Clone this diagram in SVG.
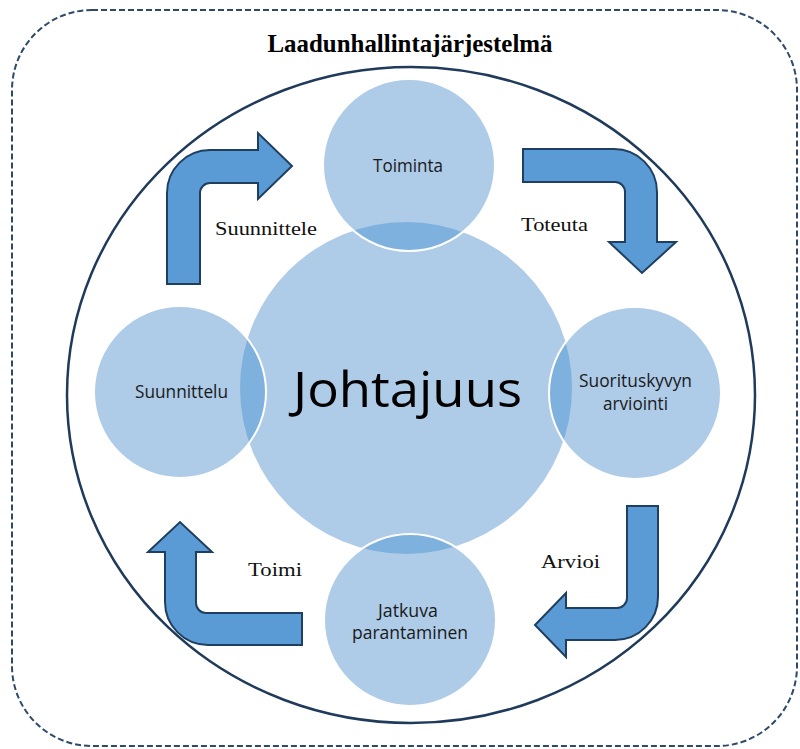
<svg xmlns="http://www.w3.org/2000/svg" width="800" height="749" viewBox="0 0 800 749">
<style>
.frame{fill:none;stroke:#2e4a6b;stroke-width:2;stroke-dasharray:6 3}
.ring{fill:none;stroke:#1f3a5a;stroke-width:2.5}
.disc{fill:#aecbe8}
.small{fill:#aecbe8}
.lens{fill:#7fb1de}
.edge{fill:none;stroke:#ffffff;stroke-width:2}
.arrow{fill:#5b9bd5;stroke:#1f3f60;stroke-width:2;stroke-linejoin:miter}
.lbl{font-family:"Open Sans","Noto Sans","Liberation Sans",sans-serif;font-size:18px;fill:#1a1a1a;text-anchor:middle}
.big{font-family:"Open Sans","Noto Sans","Liberation Sans",sans-serif;font-size:50px;fill:#000;text-anchor:middle}
.verb{font-family:"Liberation Serif","Times New Roman",serif;font-size:19px;fill:#111;text-anchor:middle}
.title{font-family:"Liberation Serif","Times New Roman",serif;font-size:25px;font-weight:bold;fill:#000;text-anchor:middle}
</style>
<defs>
<clipPath id="jclip"><circle cx="406" cy="388" r="166"/></clipPath>
</defs>
<rect width="800" height="749" fill="#ffffff"/>
<g id="system">
<rect class="frame" x="12" y="10" width="785" height="736" rx="80" ry="80"/>
<text class="title" x="410" y="52" textLength="285" lengthAdjust="spacingAndGlyphs">Laadunhallintajärjestelmä</text>
<ellipse class="ring" cx="411" cy="395" rx="344" ry="328"/>
</g>
<g id="johtajuus">
<circle class="disc" cx="406" cy="388" r="166"/>
<text class="big" x="407.5" y="407" textLength="229" lengthAdjust="spacingAndGlyphs">Johtajuus</text>
</g>
<g id="toiminta">
<circle class="small" cx="409" cy="165" r="86"/>
<circle class="lens" cx="409" cy="165" r="86" clip-path="url(#jclip)"/>
<circle class="edge" cx="409" cy="165" r="86"/>
<text class="lbl" x="408" y="172" textLength="70" lengthAdjust="spacingAndGlyphs">Toiminta</text>
</g>
<g id="suunnittelu">
<circle class="small" cx="180" cy="392" r="86"/>
<circle class="lens" cx="180" cy="392" r="86" clip-path="url(#jclip)"/>
<circle class="edge" cx="180" cy="392" r="86"/>
<text class="lbl" x="181.5" y="398" textLength="93" lengthAdjust="spacingAndGlyphs">Suunnittelu</text>
</g>
<g id="suorituskyvyn">
<circle class="small" cx="635" cy="393" r="86"/>
<circle class="lens" cx="635" cy="393" r="86" clip-path="url(#jclip)"/>
<circle class="edge" cx="635" cy="393" r="86"/>
<text class="lbl" x="635.5" y="387" textLength="113" lengthAdjust="spacingAndGlyphs">Suorituskyvyn</text>
<text class="lbl" x="635.5" y="410" textLength="65" lengthAdjust="spacingAndGlyphs">arviointi</text>
</g>
<g id="jatkuva">
<circle class="small" cx="410" cy="620" r="86"/>
<circle class="lens" cx="410" cy="620" r="86" clip-path="url(#jclip)"/>
<circle class="edge" cx="410" cy="620" r="86"/>
<text class="lbl" x="408" y="617" textLength="60" lengthAdjust="spacingAndGlyphs">Jatkuva</text>
<text class="lbl" x="410" y="639" textLength="116" lengthAdjust="spacingAndGlyphs">parantaminen</text>
</g>
<g id="connectors">
<path class="arrow" d="M167 284 L167 193 A43 43 0 0 1 210 150 L258 150 L258 133 L292 166 L258 199 L258 183 L210 183 A10 10 0 0 0 200 193 L200 284 Z"/>
<path class="arrow" d="M523 149 L614 149 A43 43 0 0 1 657 192 L657 242 L676 242 L642 273 L609 242 L625 242 L625 192 A10 10 0 0 0 615 182 L523 182 Z"/>
<path class="arrow" d="M627 506 L658 506 L658 597 A43 43 0 0 1 615 640 L566 640 L566 657 L535 625 L566 593 L566 608 L617 608 A10 10 0 0 0 627 598 Z"/>
<path class="arrow" d="M302 613 L302 645 L208 645 A43 43 0 0 1 165 602 L165 552 L148 552 L180 522 L212 552 L196 552 L196 603 A10 10 0 0 0 206 613 Z"/>
<text class="verb" x="266" y="235" textLength="102" lengthAdjust="spacingAndGlyphs">Suunnittele</text>
<text class="verb" x="554.5" y="231" textLength="67" lengthAdjust="spacingAndGlyphs">Toteuta</text>
<text class="verb" x="570.5" y="568" textLength="59" lengthAdjust="spacingAndGlyphs">Arvioi</text>
<text class="verb" x="275" y="576" textLength="54" lengthAdjust="spacingAndGlyphs">Toimi</text>
</g>
</svg>
